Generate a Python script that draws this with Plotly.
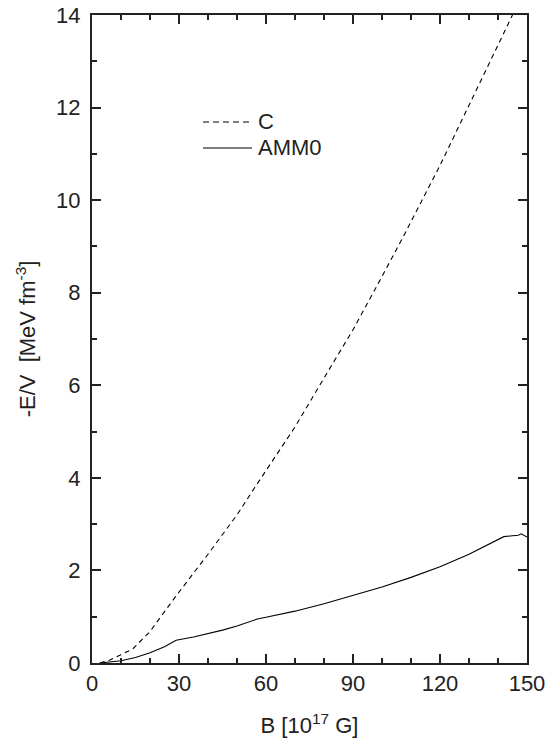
import plotly.graph_objects as go

B_C = [2.7, 6, 10, 14, 20, 29, 40, 50, 56, 70, 83, 90, 100, 108, 120, 132, 145]
E_C = [0.0, 0.06, 0.18, 0.3, 0.68, 1.45, 2.35, 3.2, 3.78, 5.1, 6.47, 7.2, 8.35, 9.29, 10.75, 12.3, 14.0]

B_A = [2.7, 6, 10, 15, 20, 25, 29, 35, 40, 45, 50, 57, 60, 70, 80, 90, 100, 110, 120, 130, 142, 145, 147, 148, 150]
E_A = [0.0, 0.02, 0.05, 0.12, 0.22, 0.35, 0.49, 0.56, 0.63, 0.71, 0.8, 0.95, 0.99, 1.12, 1.28, 1.46, 1.64, 1.85, 2.08, 2.35, 2.73, 2.75, 2.76, 2.79, 2.72]

x_ticks = [0, 30, 60, 90, 120, 150]
y_ticks = [0, 2, 4, 6, 8, 10, 12, 14]
series_names = ["C", "AMM0"]

FONT = "Liberation Sans, Arial, sans-serif"
INK = "#222"
DASH = "5px,4px"

fig = go.Figure()
fig.add_trace(go.Scatter(x=B_C, y=E_C, mode="lines", name=series_names[0], showlegend=False,
                         line=dict(color="black", width=1.1, dash=DASH)))
fig.add_trace(go.Scatter(x=B_A, y=E_A, mode="lines", name=series_names[1], showlegend=False,
                         line=dict(color="black", width=1.1)))

axis_common = dict(
    showgrid=False, zeroline=False, showline=True, linecolor=INK, linewidth=2,
    mirror="ticks", ticks="inside", ticklen=9, tickwidth=1.5, tickcolor=INK,
    tickfont=dict(family=FONT, size=22, color=INK), automargin=False,
)

fig.update_xaxes(range=[0, 150], tickvals=x_ticks, ticklabelstandoff=0,
                 minor=dict(ticks="inside", dtick=10, ticklen=5, tickwidth=1.5, tickcolor=INK),
                 title=dict(text="B [10<sup>17</sup> G]", standoff=22,
                            font=dict(family=FONT, size=22, color=INK)),
                 **axis_common)
fig.update_yaxes(range=[0, 14], tickvals=y_ticks, ticklabelstandoff=5,
                 minor=dict(ticks="inside", dtick=1, ticklen=5, tickwidth=1.5, tickcolor=INK),
                 title=dict(text="-E/V  [MeV fm<sup>-3</sup>]", standoff=14,
                            font=dict(family=FONT, size=22, color=INK)),
                 **axis_common)

# legend drawn as key lines + labels (paper coordinates)
leg_x0, leg_x1, leg_tx = 0.2552, 0.3678, 0.378
leg_y = [0.8349, 0.7948]
leg_dash = ["6px,4px", "solid"]
for name, yy, dsh in zip(series_names, leg_y, leg_dash):
    fig.add_shape(type="line", xref="paper", yref="paper", x0=leg_x0, x1=leg_x1, y0=yy, y1=yy,
                  line=dict(color="black", width=1.1, dash=dsh))
    fig.add_annotation(xref="paper", yref="paper", x=leg_tx, y=yy, text=name, showarrow=False,
                       xanchor="left", yanchor="middle", font=dict(family=FONT, size=22, color=INK))

fig.update_layout(
    width=559, height=742,
    margin=dict(l=92, r=32, t=15, b=79),
    plot_bgcolor="white", paper_bgcolor="white",
    showlegend=False,
)

fig.write_html("out.html", config={"displayModeBar": False},
               post_script="document.body.style.margin='0';")
